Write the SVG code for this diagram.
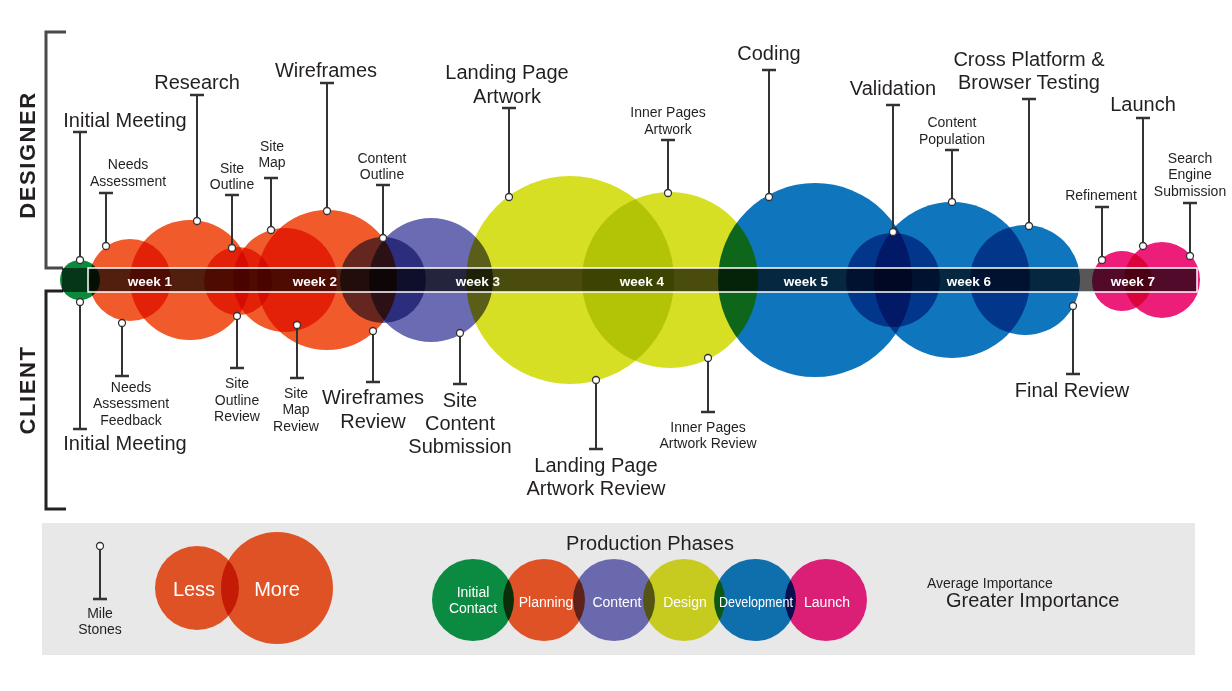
<svg xmlns="http://www.w3.org/2000/svg" width="1232" height="691" viewBox="0 0 1232 691">
<style>
text{font-family:"Liberation Sans",Arial,Helvetica,sans-serif;fill:#231f20}
.lg{font-size:20px;text-anchor:middle}
.sm{font-size:14px;text-anchor:middle}
.wk{font-size:13.5px;font-weight:bold;fill:#fff;text-anchor:middle}
.side{font-size:22px;font-weight:bold;letter-spacing:1.6px;text-anchor:middle}
.c{mix-blend-mode:multiply}
.gr{fill:#0a8a3d}.or{fill:#f15a2b}.pu{fill:#6b6bb3}.ye{fill:#d6df23}.bl{fill:#0f75bc}.pk{fill:#ec1e79}
.ms{fill:none;stroke:#333;stroke-width:2}
.tb{stroke:#333;stroke-width:2.6}
.dot{fill:#fff;stroke:#333;stroke-width:1.3}
.wt{fill:#fff;text-anchor:middle}
</style>
<rect x="0" y="0" width="1232" height="691" fill="#fff"/>

<!-- brackets -->
<g id="bracket-designer"><path d="M66,32 H46 V268 H63" fill="none" stroke="#4a4a4a" stroke-width="3"/>
<text class="side" transform="translate(35,155) rotate(-90)">DESIGNER</text></g>
<g id="bracket-client"><path d="M63,291 H46 V509 H66" fill="none" stroke="#222" stroke-width="3"/>
<text class="side" transform="translate(35,390) rotate(-90)">CLIENT</text></g>

<!-- phase circles -->
<g id="circles">
<circle class="c gr" cx="80" cy="280" r="20"/>
<circle class="c or" cx="130" cy="280" r="41"/>
<circle class="c or" cx="190" cy="280" r="60"/>
<circle class="c or" cx="238" cy="281" r="34"/>
<circle class="c or" cx="285" cy="280" r="52"/>
<circle class="c or" cx="327" cy="280" r="70"/>
<circle class="c pu" cx="383" cy="280" r="43"/>
<circle class="c pu" cx="431" cy="280" r="62"/>
<circle class="c ye" cx="570" cy="280" r="104"/>
<circle class="c ye" cx="670" cy="280" r="88"/>
<circle class="c bl" cx="815" cy="280" r="97"/>
<circle class="c bl" cx="952" cy="280" r="78"/>
<circle class="c bl" cx="893" cy="280" r="47"/>
<circle class="c bl" cx="1025" cy="280" r="55"/>
<circle class="c pk" cx="1122" cy="281" r="30"/>
<circle class="c pk" cx="1162" cy="280" r="38"/>
</g>

<!-- timeline band -->
<g id="timeline">
<rect x="62" y="268" width="26" height="24" fill="#000" opacity="0.6"/>
<rect x="88" y="268" width="1109" height="24" fill="#000" fill-opacity="0.66" stroke="#fff" stroke-width="1.5"/>
<text class="wk" x="150" y="286">week 1</text>
<text class="wk" x="315" y="286">week 2</text>
<text class="wk" x="478" y="286">week 3</text>
<text class="wk" x="642" y="286">week 4</text>
<text class="wk" x="806" y="286">week 5</text>
<text class="wk" x="969" y="286">week 6</text>
<text class="wk" x="1133" y="286">week 7</text>
</g>

<!-- milestone connectors -->
<g id="connectors">
<path class="ms" d="M80,132V260 M106,193V246 M197,95V221 M232,195V248 M271,178V230 M327,83V211 M383,185V238 M509,108V197 M668,140V193 M769,70V197 M893,105V232 M952,150V202 M1029,99V226 M1143,118V246 M1102,207V260 M1190,203V256"/>
<path class="tb" d="M73,132H87 M99,193H113 M190,95H204 M225,195H239 M264,178H278 M320,83H334 M376,185H390 M502,108H516 M661,140H675 M762,70H776 M886,105H900 M945,150H959 M1022,99H1036 M1136,118H1150 M1095,207H1109 M1183,203H1197"/>
<path class="ms" d="M80,302V429 M122,323V376 M237,316V368 M297,325V378 M373,331V382 M460,333V384 M596,380V449 M708,358V412 M1073,306V374"/>
<path class="tb" d="M73,429H87 M115,376H129 M230,368H244 M290,378H304 M366,382H380 M453,384H467 M589,449H603 M701,412H715 M1066,374H1080"/>
<g class="dot">
<circle cx="80" cy="260" r="3.5"/><circle cx="106" cy="246" r="3.5"/><circle cx="197" cy="221" r="3.5"/><circle cx="232" cy="248" r="3.5"/><circle cx="271" cy="230" r="3.5"/><circle cx="327" cy="211" r="3.5"/><circle cx="383" cy="238" r="3.5"/><circle cx="509" cy="197" r="3.5"/><circle cx="668" cy="193" r="3.5"/><circle cx="769" cy="197" r="3.5"/><circle cx="893" cy="232" r="3.5"/><circle cx="952" cy="202" r="3.5"/><circle cx="1029" cy="226" r="3.5"/><circle cx="1143" cy="246" r="3.5"/><circle cx="1102" cy="260" r="3.5"/><circle cx="1190" cy="256" r="3.5"/>
<circle cx="80" cy="302" r="3.5"/><circle cx="122" cy="323" r="3.5"/><circle cx="237" cy="316" r="3.5"/><circle cx="297" cy="325" r="3.5"/><circle cx="373" cy="331" r="3.5"/><circle cx="460" cy="333" r="3.5"/><circle cx="596" cy="380" r="3.5"/><circle cx="708" cy="358" r="3.5"/><circle cx="1073" cy="306" r="3.5"/>
</g>
</g>

<!-- designer milestones -->
<g id="m-initial-meeting"><text class="lg" x="125" y="127">Initial Meeting</text></g>
<g id="m-needs-assessment"><text class="sm" x="128" y="169">Needs</text><text class="sm" x="128" y="186">Assessment</text></g>
<g id="m-research"><text class="lg" x="197" y="89">Research</text></g>
<g id="m-site-outline"><text class="sm" x="232" y="173">Site</text><text class="sm" x="232" y="189">Outline</text></g>
<g id="m-site-map"><text class="sm" x="272" y="151">Site</text><text class="sm" x="272" y="167">Map</text></g>
<g id="m-wireframes"><text class="lg" x="326" y="77">Wireframes</text></g>
<g id="m-content-outline"><text class="sm" x="382" y="163">Content</text><text class="sm" x="382" y="179">Outline</text></g>
<g id="m-landing-page-artwork"><text class="lg" x="507" y="79">Landing Page</text><text class="lg" x="507" y="103">Artwork</text></g>
<g id="m-inner-pages-artwork"><text class="sm" x="668" y="117">Inner Pages</text><text class="sm" x="668" y="134">Artwork</text></g>
<g id="m-coding"><text class="lg" x="769" y="60">Coding</text></g>
<g id="m-validation"><text class="lg" x="893" y="95">Validation</text></g>
<g id="m-content-population"><text class="sm" x="952" y="127">Content</text><text class="sm" x="952" y="144">Population</text></g>
<g id="m-cross-platform"><text class="lg" x="1029" y="66">Cross Platform &amp;</text><text class="lg" x="1029" y="89">Browser Testing</text></g>
<g id="m-launch"><text class="lg" x="1143" y="111">Launch</text></g>
<g id="m-refinement"><text class="sm" x="1101" y="200">Refinement</text></g>
<g id="m-search-engine"><text class="sm" x="1190" y="163">Search</text><text class="sm" x="1190" y="179">Engine</text><text class="sm" x="1190" y="196">Submission</text></g>

<!-- client milestones -->
<g id="c-initial-meeting"><text class="lg" x="125" y="450">Initial Meeting</text></g>
<g id="c-needs-feedback"><text class="sm" x="131" y="392">Needs</text><text class="sm" x="131" y="408">Assessment</text><text class="sm" x="131" y="425">Feedback</text></g>
<g id="c-site-outline-review"><text class="sm" x="237" y="388">Site</text><text class="sm" x="237" y="405">Outline</text><text class="sm" x="237" y="421">Review</text></g>
<g id="c-site-map-review"><text class="sm" x="296" y="398">Site</text><text class="sm" x="296" y="414">Map</text><text class="sm" x="296" y="431">Review</text></g>
<g id="c-wireframes-review"><text class="lg" x="373" y="404">Wireframes</text><text class="lg" x="373" y="428">Review</text></g>
<g id="c-site-content"><text class="lg" x="460" y="407">Site</text><text class="lg" x="460" y="430">Content</text><text class="lg" x="460" y="453">Submission</text></g>
<g id="c-landing-review"><text class="lg" x="596" y="472">Landing Page</text><text class="lg" x="596" y="495">Artwork Review</text></g>
<g id="c-inner-review"><text class="sm" x="708" y="432">Inner Pages</text><text class="sm" x="708" y="448">Artwork Review</text></g>
<g id="c-final-review"><text class="lg" x="1072" y="397">Final Review</text></g>

<!-- legend -->
<g id="legend">
<rect x="42" y="523" width="1153" height="132" fill="#e8e8e8"/>
<g id="legend-milestone">
<path class="ms" d="M100,546V599"/><path class="tb" d="M93,599H107"/><circle class="dot" cx="100" cy="546" r="3.5"/>
<text class="sm" x="100" y="618">Mile</text><text class="sm" x="100" y="634">Stones</text>
</g>
<g id="legend-size" style="isolation:isolate">
<circle class="c" cx="197" cy="588" r="42" fill="#df5226"/>
<circle class="c" cx="277" cy="588" r="56" fill="#df5226"/>
</g>
<text class="lg" x="194" y="596" style="fill:#fff">Less</text>
<text class="lg" x="277" y="596" style="fill:#fff">More</text>
<text class="lg" x="650" y="550">Production Phases</text>
<g id="legend-phases" style="isolation:isolate">
<circle class="c" cx="473" cy="600" r="41" fill="#0b8a41"/>
<circle class="c" cx="544" cy="600" r="41" fill="#df5226"/>
<circle class="c" cx="614" cy="600" r="41" fill="#6b69ad"/>
<circle class="c" cx="684" cy="600" r="41" fill="#c8cb1f"/>
<circle class="c" cx="755" cy="600" r="41" fill="#0f6fad"/>
<circle class="c" cx="826" cy="600" r="41" fill="#dc1f76"/>
</g>
<text class="sm" x="473" y="597" style="fill:#fff">Initial</text>
<text class="sm" x="473" y="613" style="fill:#fff">Contact</text>
<text class="sm" x="546" y="607" style="fill:#fff">Planning</text>
<text class="sm" x="617" y="607" style="fill:#fff">Content</text>
<text class="sm" x="685" y="607" style="fill:#fff">Design</text>
<text class="sm" x="756" y="607" style="fill:#fff" textLength="74" lengthAdjust="spacingAndGlyphs">Development</text>
<text class="sm" x="827" y="607" style="fill:#fff">Launch</text>
<text x="927" y="588" style="font-size:14px">Average Importance</text>
<text x="946" y="607" style="font-size:20px">Greater Importance</text>
</g>
</svg>
